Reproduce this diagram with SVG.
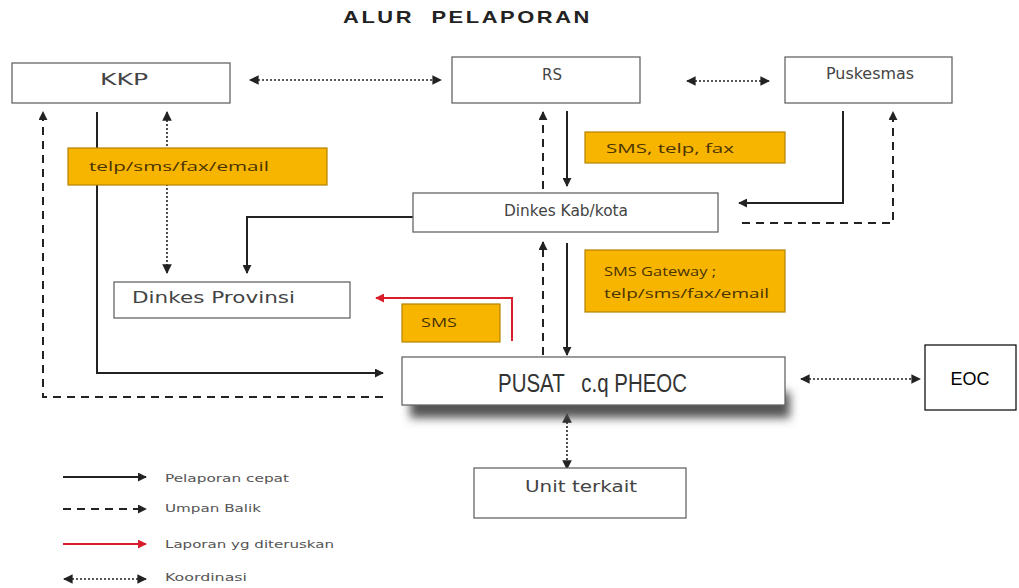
<svg xmlns="http://www.w3.org/2000/svg" width="1019" height="588" viewBox="0 0 1019 588">
<style>
.box{fill:#fff;stroke:#666;stroke-width:1.3}
.lbl{font-family:"DejaVu Sans",Verdana,sans-serif;font-size:15px;fill:#444}
.tag{fill:#F7B500;stroke:#b58200;stroke-width:1.2}
.tagt{font-family:"Open Sans","DejaVu Sans",sans-serif;font-size:13px;fill:#4a3300}
.solid{fill:none;stroke:#222;stroke-width:2}
.dash{fill:none;stroke:#222;stroke-width:2;stroke-dasharray:8 6}
.dot{fill:none;stroke:#222;stroke-width:1.6;stroke-dasharray:2 2}
.red{fill:none;stroke:#d81e2c;stroke-width:2}
.leg{font-family:"DejaVu Sans",Verdana,sans-serif;font-size:11px;fill:#555}
</style>
<defs>
<marker id="ah" viewBox="0 0 10 10" refX="9" refY="5" markerWidth="4.5" markerHeight="4.5" orient="auto-start-reverse" markerUnits="strokeWidth"><path d="M0,0 L10,5 L0,10 z" fill="#222"/></marker>
<marker id="ahd" viewBox="0 0 10 10" refX="9" refY="5" markerWidth="6" markerHeight="6" orient="auto-start-reverse" markerUnits="strokeWidth"><path d="M0,0 L10,5 L0,10 z" fill="#222"/></marker>
<marker id="ahr" viewBox="0 0 10 10" refX="9" refY="5" markerWidth="4.5" markerHeight="4.5" orient="auto-start-reverse" markerUnits="strokeWidth"><path d="M0,0 L10,5 L0,10 z" fill="#d81e2c"/></marker>
<filter id="shadow" x="-10%" y="-50%" width="120%" height="250%"><feGaussianBlur stdDeviation="5"/></filter>
</defs>
<rect width="1019" height="588" fill="#fff"/>
<text x="343" y="23" textLength="249" lengthAdjust="spacingAndGlyphs" letter-spacing="2" font-family="'Liberation Sans',Arial,sans-serif" font-weight="bold" font-size="17" fill="#222" xml:space="preserve">ALUR  PELAPORAN</text>

<g id="connectors">
<line class="dot" x1="250" y1="80" x2="441" y2="80" marker-start="url(#ahd)" marker-end="url(#ahd)"/>
<line class="dot" x1="687" y1="81" x2="769" y2="81" marker-start="url(#ahd)" marker-end="url(#ahd)"/>
<line class="solid" x1="567" y1="111" x2="567" y2="186" marker-end="url(#ah)"/>
<line class="dash" x1="543" y1="189" x2="543" y2="112" marker-end="url(#ah)"/>
<polyline class="solid" points="843,111 843,203 739,203" marker-end="url(#ah)"/>
<polyline class="dash" points="742,223 893,223 893,112" marker-end="url(#ah)"/>
<polyline class="solid" points="413,217 247,217 247,273" marker-end="url(#ah)"/>
<line class="dot" x1="167" y1="112" x2="167" y2="273" marker-start="url(#ahd)" marker-end="url(#ahd)"/>
<polyline class="solid" points="97,112 97,373 383,373" marker-end="url(#ah)"/>
<polyline class="dash" points="383,397 43,397 43,112" marker-end="url(#ah)"/>
<polyline class="red" points="512,341 512,298 376,298" marker-end="url(#ahr)"/>
<line class="dash" x1="543" y1="355" x2="543" y2="242" marker-end="url(#ah)"/>
<line class="solid" x1="567" y1="243" x2="567" y2="355" marker-end="url(#ah)"/>
<line class="dot" x1="801" y1="379" x2="920" y2="379" marker-start="url(#ahd)" marker-end="url(#ahd)"/>
<line class="dot" x1="567" y1="414" x2="567" y2="469" marker-start="url(#ahd)" marker-end="url(#ahd)"/>
</g>

<g id="kkp"><rect class="box" x="12" y="63" width="218" height="40"/><text class="lbl" x="100" y="85" textLength="48" lengthAdjust="spacingAndGlyphs">KKP</text></g>
<g id="rs"><rect class="box" x="452" y="57" width="188" height="46"/><text class="lbl" x="552" y="80" text-anchor="middle">RS</text></g>
<g id="puskesmas"><rect class="box" x="785" y="57" width="167" height="46"/><text class="lbl" x="826" y="79" textLength="88" lengthAdjust="spacingAndGlyphs">Puskesmas</text></g>
<g id="dinkes-kab"><rect class="box" x="413" y="193" width="305" height="39"/><text class="lbl" x="504" y="216" textLength="124" lengthAdjust="spacingAndGlyphs">Dinkes Kab/kota</text></g>
<g id="dinkes-prov"><rect class="box" x="114" y="282" width="236" height="36"/><text class="lbl" x="132" y="303" font-size="17" textLength="163" lengthAdjust="spacingAndGlyphs">Dinkes Provinsi</text></g>
<g id="pusat">
<rect x="410" y="392" width="380" height="26" fill="#555" filter="url(#shadow)"/>
<rect class="box" x="402" y="357" width="383" height="48"/>
<text x="498" y="392" textLength="189" lengthAdjust="spacingAndGlyphs" font-family="'Liberation Sans',Arial,sans-serif" font-size="26" fill="#333" xml:space="preserve">PUSAT   c.q PHEOC</text>
</g>
<g id="eoc"><rect x="925" y="345" width="91" height="65" fill="#fff" stroke="#000" stroke-width="1.2"/><text x="970" y="385" text-anchor="middle" font-family="'Liberation Sans',Arial,sans-serif" font-size="18" fill="#000">EOC</text></g>
<g id="unit-terkait"><rect class="box" x="474" y="468" width="212" height="50"/><text class="lbl" x="525" y="492" font-size="16" textLength="112" lengthAdjust="spacingAndGlyphs">Unit terkait</text></g>

<g id="tag-telp"><rect class="tag" x="68" y="148" width="259" height="37"/><text class="tagt" x="89" y="171" textLength="180" lengthAdjust="spacingAndGlyphs">telp/sms/fax/email</text></g>
<g id="tag-sms-telp"><rect class="tag" x="585" y="132" width="200" height="31"/><text class="tagt" x="606" y="153" textLength="128" lengthAdjust="spacingAndGlyphs">SMS, telp, fax</text></g>
<g id="tag-gateway"><rect class="tag" x="585" y="250" width="200" height="62"/><text class="tagt" x="604" y="276" textLength="112" lengthAdjust="spacingAndGlyphs">SMS Gateway ;</text><text class="tagt" x="604" y="298" textLength="165" lengthAdjust="spacingAndGlyphs">telp/sms/fax/email</text></g>
<g id="tag-sms"><rect class="tag" x="402" y="304" width="98" height="38"/><text class="tagt" x="421" y="327" font-size="11.5" textLength="36" lengthAdjust="spacingAndGlyphs">SMS</text></g>

<g id="legend">
<line class="solid" x1="63" y1="477" x2="146" y2="477" marker-end="url(#ah)"/>
<text class="leg" x="165" y="482" textLength="124" lengthAdjust="spacingAndGlyphs">Pelaporan cepat</text>
<line class="dash" x1="63" y1="509" x2="146" y2="509" marker-end="url(#ah)"/>
<text class="leg" x="165" y="512" textLength="96" lengthAdjust="spacingAndGlyphs">Umpan Balik</text>
<line class="red" x1="63" y1="544" x2="146" y2="544" marker-end="url(#ahr)"/>
<text class="leg" x="165" y="548" textLength="169" lengthAdjust="spacingAndGlyphs">Laporan yg diteruskan</text>
<line class="dot" x1="64" y1="579" x2="146" y2="579" marker-start="url(#ahd)" marker-end="url(#ahd)"/>
<text class="leg" x="165" y="581" textLength="82" lengthAdjust="spacingAndGlyphs">Koordinasi</text>
</g>
</svg>
